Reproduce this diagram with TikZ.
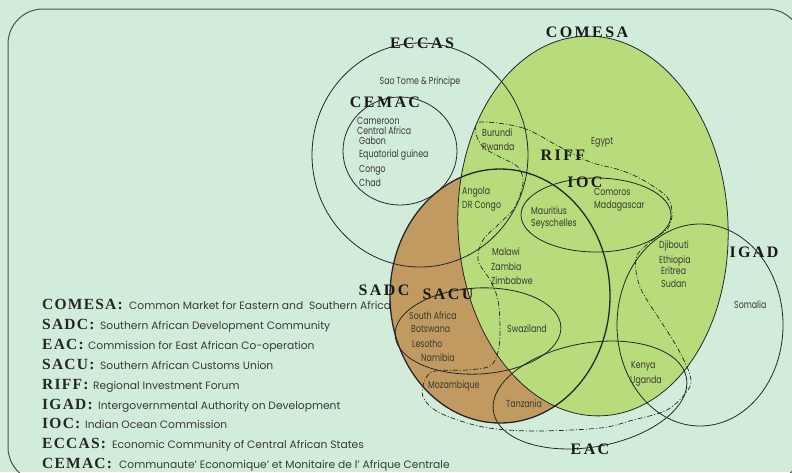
\documentclass[tikz,border=0pt]{standalone}
\usepackage{fontspec}
\setmainfont{Poppins}
\newfontfamily\statefont{Poppins}[FakeStretch=0.77]
\newfontfamily\tagfont{Liberation Serif}[LetterSpace=15]
\newfontfamily\keyfont{Liberation Serif}[LetterSpace=8]
\definecolor{paper}{HTML}{D2ECDC}
\definecolor{leaf}{HTML}{B8DC7C}
\definecolor{clay}{HTML}{C09A60}
\definecolor{ink}{HTML}{3A3A30}
\definecolor{rim}{HTML}{505050}
\begin{document}
\begin{tikzpicture}[x=1pt,y=-1pt,
  region/.style={draw=black!85, line width=0.8pt},
  riffline/.style={draw=black!85, line width=0.7pt, dash pattern=on 5pt off 2pt on 1pt off 2pt},
  country/.style={anchor=west, inner sep=0pt, text=ink, font=\statefont\fontsize{10.2}{10}\selectfont},
  tag/.style={inner sep=0pt, text=black!90, font=\tagfont\bfseries\fontsize{16}{16}\selectfont},
  keytag/.style={anchor=base west, inner sep=0pt, text=black!85, font=\keyfont\bfseries\fontsize{15.5}{16}\selectfont},
  keytext/.style={anchor=base west, inner sep=0pt, text=ink, font=\fontsize{10.7}{11}\selectfont}]

% page and frame
\fill[paper] (0,0) rectangle (792,472);
\useasboundingbox (0,0) rectangle (792,472);
\draw[rim, line width=1pt, rounded corners=35pt] (8,9) rectangle (802,482);

% legend
\foreach \n/\k/\d/\x/\y in {
  a/COMESA:/{Common Market for Eastern and\ \ Southern Africa}/129/309,
  b/SADC:/{Southern African Development Community}/100/329,
  c/EAC:/{Commission for East African Co-operation}/88/349,
  d/SACU:/{Southern African Customs Union}/100/369,
  e/RIFF:/{Regional Investment Forum}/93/389,
  f/IGAD:/{Intergovernmental Authority on Development}/98/409,
  g/IOC:/{Indian Ocean Commission}/85/428,
  h/ECCAS:/{Economic Community of Central African States}/112/448,
  i/CEMAC:/{Communaute' Economique' et Monitaire de l' Afrique Centrale}/119/468}
{
  \node[keytag] (key\n) at (42,\y) {\k};
  \node[keytext] (def\n) at (\x,\y) {\d};
}

% filled regions
\fill[clay] (500,296) ellipse [x radius=110pt, y radius=127pt];
\fill[leaf, rotate around={3:(593,226)}] (593,226) ellipse [x radius=135pt, y radius=190pt];

% region outlines
\draw[region, line width=1.3pt] (500,296) ellipse [x radius=110pt, y radius=127pt];
\draw[region, rotate around={3:(593,226)}] (593,226) ellipse [x radius=135pt, y radius=190pt];
\draw[region] (420,155) ellipse [x radius=108pt, y radius=112pt];
\draw[region] (400,151) ellipse [x radius=57pt, y radius=54pt];
\draw[region] (596,215) ellipse [x radius=75pt, y radius=37pt];
\draw[region, rotate around={3:(478,331)}] (478,331) ellipse [x radius=83pt, y radius=43pt];
\draw[region] (700,325) ellipse [x radius=83pt, y radius=101pt];
\draw[region, rotate around={10:(590,395)}] (590,395) ellipse [x radius=98pt, y radius=52pt];
\draw[riffline] plot[smooth cycle, tension=0.55] coordinates {
  (480,122) (523,128) (560,147) (590,162) (620,170) (643,180) (667,197)
  (672,213) (668,228) (650,242) (636,258) (640,287) (660,320) (677,347)
  (690,375) (688,390) (667,410) (633,420) (600,428) (533,431) (483,427)
  (440,413) (423,397) (425,380) (435,371) (467,370) (490,366) (498,352)
  (500,330) (498,300) (490,280) (478,260) (483,240) (500,223) (515,207)
  (523,183) (518,167) (500,157) (483,147) (476,133)};

% region names
\node[tag] (tECCAS) at (422,43) {ECCAS};
\node[tag] (tCOMESA) at (587,32) {COMESA};
\node[tag] (tCEMAC) at (385,102) {CEMAC};
\node[tag] (tRIFF) at (563,155) {RIFF};
\node[tag] (tIOC) at (585,182) {IOC};
\node[tag] (tSADC) at (384,290) {SADC};
\node[tag] (tSACU) at (448,294) {SACU};
\node[tag] (tIGAD) at (754,252) {IGAD};
\node[tag] (tEAC) at (590,449) {EAC};

% member states
\node[country, anchor=center] (stp) at (420,82) {Sao Tome \& Principe};
\foreach \n/\t/\x/\y in {
  cm/Cameroon/357/121, cf/Central Africa/357/131, ga/Gabon/359/141,
  gq/Equatorial guinea/359/155, cg/Congo/359/170, td/Chad/359/183,
  bi/Burundi/482/133, rw/Rwanda/482/147, eg/Egypt/591/142,
  ao/Angola/462/192, cd/DR Congo/462/206,
  mu/Mauritius/531/211, sc/Seyschelles/531/224,
  km/Comoros/594/192, mg/Madagascar/594/206,
  mw/Malawi/492/252, zm/Zambia/491/267, zw/Zimbabwe/491/281,
  dj/Djibouti/659/246, et/Ethiopia/659/261, er/Eritrea/661/271, sd/Sudan/661/284,
  so/Somalia/734/305,
  za/South Africa/409/316, bw/Botswana/411/329, ls/Lesotho/412/344, na/Namibia/421/358,
  sz/Swaziland/507/329, mz/Mozambique/428/386, tz/Tanzania/506/404,
  ke/Kenya/631/366, ug/Uganda/630/381}
{
  \node[country] (\n) at (\x,\y) {\t};
}
\end{tikzpicture}
\end{document}
